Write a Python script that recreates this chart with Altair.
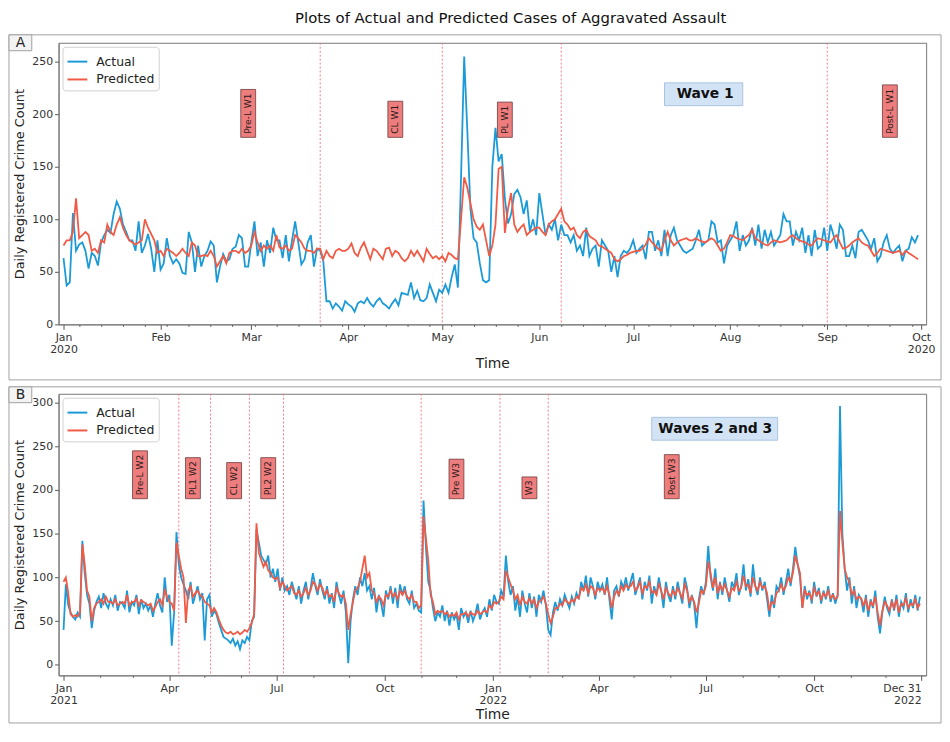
import altair as alt
import pandas as pd

BLUE = "#1b9ad8"
RED = "#f15b45"
RULE = "#f07c88"
BOXFILL = "#ee7d7d"
BOXSTROKE = "#6e3a3a"
WAVEFILL = "#d3e3f6"
WAVESTROKE = "#a9c2de"
FONT = "DejaVu Sans"

W = 875
H = 284

title_text = "Plots of Actual and Predicted Cases of Aggravated Assault"
series_names = ["Actual", "Predicted"]

# ---------------- Panel A (daily, 2020-01-01 .. 2020-09-30) ----------------
a_actual = [
    63, 37, 40, 106, 70, 76, 78, 70, 53, 68,
    65, 56, 78, 85, 90, 87, 105, 117, 110, 95,
    88, 80, 80, 70, 98, 68, 75, 86, 72, 50,
    80, 52, 58, 82, 65, 58, 62, 58, 49, 48,
    88, 78, 50, 75, 55, 65, 70, 79, 75, 40,
    55, 67, 60, 62, 72, 74, 85, 82, 55, 55,
    78, 98, 65, 78, 55, 80, 68, 92, 80, 80,
    63, 85, 60, 80, 98, 78, 57, 62, 78, 85,
    55, 72,
    70, 60, 22, 22, 15, 20, 17, 13, 22, 19,
    17, 12, 20, 22, 20, 25, 20, 17, 22, 25,
    20, 18, 15, 20, 24, 18, 30, 29, 28, 40,
    25, 32, 23, 22, 25, 38, 30, 22, 33, 30,
    38, 30, 45, 57, 35, 140,
    255, 185, 110, 82, 78, 58, 42, 40, 42, 150,
    187, 155, 162, 120, 96, 105, 124, 128, 121, 105,
    118, 88, 100, 85, 125, 105, 85, 95, 90, 100,
    80, 95, 85,
    85, 78, 85, 70, 75, 65, 92, 65,
    72, 75, 55, 80, 75, 70, 50, 65, 45, 65,
    70, 68, 72, 80, 68, 72, 75, 62, 88, 88,
    70, 80, 65, 90, 65, 85, 92, 80, 75, 70,
    68, 70, 72, 80, 90, 75, 78, 80, 98, 95,
    78, 80, 58, 75, 80, 85, 98, 70, 85, 75,
    80, 92, 75, 95, 72, 90, 78, 88, 75, 80,
    85, 105, 98, 98, 75, 88, 80, 92, 68, 85,
    65, 90, 72, 75, 92, 70, 95, 85, 72, 95,
    90, 65, 65, 75, 63, 88, 90, 85, 80, 72,
    82, 60, 65, 78, 85, 72, 68, 72, 75, 60,
    70, 72, 83, 78, 85,
]
a_pred = [
    75, 80, 80, 88, 120, 82, 85, 88, 85, 70,
    72, 68, 80, 78, 95, 88, 85, 95, 102, 92,
    85, 80, 78, 76, 78, 80, 100, 92, 86, 80,
    68, 70, 65, 72, 70, 68, 65, 68, 72, 68,
    65, 78, 75, 65, 65, 66, 65, 70, 65, 55,
    60, 65, 58, 68, 70, 70, 68, 72, 68, 70,
    75, 88, 78, 70, 75, 72, 75, 70, 85, 73,
    72, 75, 70, 72, 85, 82, 78, 72, 70, 70,
    68, 72,
    72, 62, 70, 65, 63, 70, 72, 70, 70, 72,
    77, 68, 65, 73, 78, 70, 62, 72, 70, 66,
    62, 72, 73, 65, 70, 68, 63, 60, 63, 70,
    65, 70, 65, 60, 72, 67, 63, 65, 62, 65,
    60, 68, 66, 63, 62, 100,
    140, 130, 115, 100, 93, 90, 95, 80, 65, 75,
    95, 148, 150, 87, 110, 125, 95, 88, 92, 95,
    85, 88, 90, 92, 92, 88, 85, 95, 98, 100,
    105, 110, 98,
    95, 90, 92, 85, 82, 88, 90, 84,
    82, 80, 75, 74, 72, 70, 68, 62, 60, 62,
    65, 66, 68, 69, 70, 70, 72, 76, 82, 78,
    75, 72, 70, 80, 88, 80, 75, 78, 80, 81,
    82, 80, 80, 82, 80, 79, 78, 80, 82, 80,
    75, 70, 72, 78, 85, 84, 82, 81, 80, 83,
    85, 90, 82, 80, 78, 76, 75, 78, 80, 79,
    78, 79, 80, 83, 85, 82, 80, 79, 78, 76,
    75, 79, 82, 81, 80, 79, 78, 82, 85, 78,
    72, 73, 75, 78, 80, 82, 78, 76, 75, 70,
    65, 68, 72, 71, 70, 69, 68, 69, 70, 66,
    70, 68, 66, 64, 62,
]
a_start, a_end = "2020-01-01", "2020-10-01"
a_ydomain = [0, 268]
a_yticks = [0, 50, 100, 150, 200, 250]
a_rules = ["2020-03-23", "2020-05-01", "2020-06-08", "2020-09-01"]
a_labels = ["Pre-L W1", "CL W1", "PL W1", "Post-L W1"]
a_label_dates = ["2020-02-29", "2020-04-16", "2020-05-21", "2020-09-21"]
a_label_bottom = 178
a_wave = "Wave 1"
a_wave_date = "2020-07-24"
a_wave_value = 219
a_wave_wpx = 82

# ---------------- Panel B (every 2nd day, 2021-01-01 .. 2022-12-30) ----------------
b_actual = [
    40, 92, 68, 60, 55, 52, 60, 55, 142, 105,
    80, 70, 42, 62, 72, 78, 65, 82, 70, 65,
    75, 68, 80, 62, 72, 70, 65, 85, 60, 72,
    68, 80, 58, 75, 65, 70, 62, 68, 55, 70,
    82, 68, 60, 100, 72, 80, 22, 60, 152, 115,
    100, 92, 85, 75, 95, 70, 80, 90, 75, 82,
    28, 75, 80, 55, 62, 58, 48, 40, 32, 30,
    28, 25, 30, 22, 27, 18, 28, 25, 32, 28,
    50, 55, 155, 140, 125, 120, 115, 125, 100, 110,
    95, 110, 85, 100, 85, 90, 80, 95, 85, 75,
    90, 70, 85, 95, 75, 88, 105, 90, 80, 98,
    85, 75, 90, 70, 82, 65, 95, 80, 70, 85,
    60, 2, 50, 75, 90, 80, 100, 90, 105, 85,
    90, 75, 88, 60, 80, 70, 55, 85, 75, 90,
    70, 88, 65, 92, 80, 90, 75, 70, 85, 65,
    70, 62, 60, 188, 135, 95, 85, 65, 50, 60,
    55, 68, 50, 62, 45, 60, 52, 58, 40, 65,
    55, 60, 48, 62, 50, 58, 70, 52, 60, 65,
    55, 75, 62, 80, 72, 70, 85, 78, 125, 95,
    80, 90, 62, 78, 55, 85, 70, 60, 82, 65,
    78, 55, 80, 72, 85, 68, 40, 34, 60, 72,
    62, 75, 68, 80, 72, 65, 78, 70, 82, 75,
    95, 85, 102, 78, 100, 90, 75, 95, 85, 92,
    80, 100, 75, 52, 85, 90, 78, 95, 88, 100,
    85, 95, 105, 80, 90, 100, 75, 95, 85, 102,
    70, 90, 80, 100, 85, 65, 95, 80, 72, 90,
    75, 95, 82, 70, 100, 88, 65, 80, 70, 42,
    75, 90, 80, 95, 136, 100, 85, 110, 75, 95,
    80, 100, 85, 72, 95, 88, 105, 80, 90, 115,
    85, 98, 78, 115, 90, 80, 100, 85, 95, 75,
    55, 80, 65, 90, 85, 100, 80, 95, 110, 90,
    110, 135, 115, 100, 65, 90, 75, 85, 70, 95,
    78, 88, 70, 85, 75, 90, 72, 82, 70, 80,
    296, 150, 110, 85, 100, 70, 90, 65, 80, 75,
    60, 80, 55, 75, 65, 85, 55, 36, 60, 78,
    65, 58, 75, 62, 80, 55, 72, 65, 82, 60,
    75, 65, 80, 62, 78,
]
b_pred = [
    95, 100, 82, 58, 55, 57, 55, 60, 138, 115,
    85, 78, 50, 65, 70, 72, 75, 70, 78, 72,
    72, 70, 75, 68, 70, 72, 70, 80, 68, 72,
    72, 76, 68, 74, 72, 70, 68, 70, 62, 66,
    72, 75, 68, 85, 78, 72, 70, 62, 140, 125,
    110, 100, 48, 85, 90, 78, 82, 85, 80, 78,
    72, 70, 68, 60, 65, 60, 52, 45, 40, 37,
    36, 38, 35, 36, 38, 35, 37, 40, 38, 42,
    48, 58, 162, 128, 120, 112, 118, 108, 105, 100,
    98, 100, 88, 95, 90, 85, 88, 90, 82, 80,
    85, 78, 82, 88, 80, 85, 95, 92, 85, 92,
    88, 80, 85, 78, 80, 72, 88, 82, 78, 80,
    70, 40, 58, 72, 85, 88, 95, 110, 125, 100,
    105, 85, 82, 72, 78, 75, 68, 80, 78, 85,
    78, 82, 75, 85, 80, 85, 78, 75, 80, 72,
    72, 65, 68, 170, 145, 120, 80, 72, 58, 62,
    60, 62, 58, 60, 55, 58, 56, 60, 52, 58,
    58, 60, 55, 60, 58, 57, 62, 58, 60, 62,
    60, 68, 65, 72, 70, 72, 78, 75, 108, 100,
    92, 85, 75, 80, 68, 78, 72, 70, 76, 70,
    75, 65, 72, 74, 78, 70, 58, 48, 55, 65,
    65, 70, 68, 75, 72, 70, 75, 72, 78, 76,
    88, 85, 92, 82, 90, 88, 80, 88, 85, 88,
    82, 90, 80, 65, 78, 85, 80, 90, 85, 92,
    88, 90, 95, 85, 88, 95, 82, 90, 88, 95,
    82, 85, 80, 92, 85, 75, 88, 82, 78, 85,
    80, 88, 82, 76, 92, 85, 72, 78, 72, 60,
    70, 85, 82, 90, 118, 105, 88, 100, 82, 92,
    85, 92, 85, 78, 88, 85, 95, 85, 88, 102,
    90, 92, 82, 100, 90, 85, 95, 88, 90, 82,
    62, 72, 70, 82, 85, 92, 85, 90, 100, 95,
    105, 125, 115, 105, 65, 85, 80, 82, 75, 88,
    80, 84, 75, 82, 78, 85, 76, 80, 75, 78,
    176, 140, 110, 100, 95, 80, 85, 75, 78, 76,
    68, 75, 62, 72, 68, 78, 60, 45, 62, 72,
    68, 62, 72, 65, 75, 60, 70, 68, 76, 65,
    70, 68, 75, 65, 70,
]
b_start, b_end = "2021-01-01", "2022-12-31"
b_ydomain = [-12, 310]
b_yticks = [0, 50, 100, 150, 200, 250, 300]
b_rules = ["2021-04-09", "2021-05-06", "2021-06-08", "2021-07-07",
           "2021-11-01", "2022-01-07", "2022-02-17"]
b_labels = ["Pre-L W2", "PL1 W2", "CL W2", "PL2 W2", "Pre W3", "W3", "Post W3"]
b_label_dates = ["2021-03-07", "2021-04-21", "2021-05-26", "2021-06-24",
                 "2021-12-01", "2022-02-01", "2022-06-02"]
b_label_bottom = 190
b_wave = "Waves 2 and 3"
b_wave_date = "2022-07-09"
b_wave_value = 270
b_wave_wpx = 129

# ------------------------------------------------------------------
CW = {'P': .603, 'r': .411, 'e': .615, '-': .361, 'L': .557, ' ': .318,
      'W': .989, '1': .636, '2': .636, '3': .636, 'C': .698, 'o': .612,
      's': .521, 't': .392}
LABEL_SIZE = 9.2


def text_px(s, size):
    return sum(CW.get(c, 0.6) for c in s) * size


def iso(ts):
    return pd.Timestamp(ts).strftime("%Y-%m-%dT00:00:00")


def to_dt(s):
    t = pd.Timestamp(s)
    return alt.DateTime(year=t.year, month=t.month, date=t.day)


def panel(tag, freq, actual, pred, start, end, ydom, yticks, rules, labels,
          label_dates, label_bottom, wave, wave_date, wave_val, wave_wpx,
          tick_values, label_expr, major_test, ftop, fbot):
    n = len(actual)
    dates = [iso(d) for d in pd.date_range(start, periods=n, freq=freq)]
    df = pd.DataFrame({"date": dates * 2, "value": actual + pred,
                       "series": ["Actual"] * n + ["Predicted"] * n})
    ndays = (pd.Timestamp(end) - pd.Timestamp(start)).days
    ppu = H / (ydom[1] - ydom[0])
    ppd = W / ndays

    xaxis = alt.Axis(
        title="Time", values=tick_values, labelExpr=label_expr,
        labelOverlap=False, labelBound=False, labelLineHeight=12,
        labelPadding=2, titlePadding=3, titleFontSize=14,
        tickSize={"condition": {"test": major_test, "value": 5}, "value": 2},
        labelAlign={"condition": {"test": "date(datum.value)==31", "value": "right"},
                    "value": "center"},
    )
    yaxis = alt.Axis(title="Daily Registered Crime Count", values=yticks,
                     titlePadding=5, labelPadding=2, titleFontSize=13)
    xscale = alt.Scale(domain=[to_dt(start), to_dt(end)])
    yscale = alt.Scale(domain=ydom, nice=False, zero=False)

    def X(field="date"):
        return alt.X(f"{field}:T", scale=xscale, axis=xaxis)

    def Y(field="value"):
        return alt.Y(f"{field}:Q", scale=yscale, axis=yaxis)

    one = pd.DataFrame({"k": [0]})
    frame = alt.Chart(one).mark_rect(fillOpacity=0, stroke="#a0a0a0", strokeWidth=1).encode(
        x=alt.value(-50), x2=alt.value(W + 15), y=alt.value(ftop), y2=alt.value(fbot))
    tagbox = alt.Chart(one).mark_rect(fill="#f3f3f3", stroke="#a0a0a0", strokeWidth=1).encode(
        x=alt.value(-50), x2=alt.value(-27), y=alt.value(ftop), y2=alt.value(ftop + 16))
    tagtext = alt.Chart(one).mark_text(fontSize=14, font=FONT, color="#222").encode(
        x=alt.value(-38.5), y=alt.value(ftop + 8.5), text=alt.value(tag))

    rule_df = pd.DataFrame({"date": [iso(r) for r in rules]})
    rule = alt.Chart(rule_df).mark_rule(color=RULE, strokeDash=[2, 2], strokeWidth=1).encode(
        x=X())

    lines = alt.Chart(df).mark_line(strokeWidth=1.8).encode(
        x=X(), y=Y(),
        color=alt.Color("series:N",
                        scale=alt.Scale(domain=series_names, range=[BLUE, RED]),
                        legend=alt.Legend(orient="top-left", title=None, fillColor="white",
                                          strokeColor="#d0d0d0", padding=4, offset=4,
                                          cornerRadius=3, symbolType="stroke",
                                          symbolSize=400, symbolStrokeWidth=2,
                                          labelFontSize=12.5, labelFont=FONT,
                                          labelOffset=8, rowPadding=-2, labelColor="#222")),
    )

    lab_df = pd.DataFrame({
        "date": [iso(d) for d in label_dates],
        "label": labels,
        "value": [label_bottom] * len(labels),
        "value2": [label_bottom + (text_px(s, LABEL_SIZE) + 7) / ppu for s in labels],
    })
    lab_text_df = pd.DataFrame({
        "date": [iso(d) for d in label_dates],
        "label": labels,
        "value": [label_bottom + 3.5 / ppu] * len(labels),
    })
    boxes = alt.Chart(lab_df).mark_bar(size=15, fill=BOXFILL, stroke=BOXSTROKE,
                                       strokeWidth=0.8).encode(
        x=X(), y=Y(), y2="value2:Q")
    texts = alt.Chart(lab_text_df).mark_text(
        angle=270, align="left", baseline="middle", fontSize=LABEL_SIZE, font=FONT,
        color="#2a1a1a").encode(x=X(), y=Y(), text="label:N")

    half_days = wave_wpx / 2 / ppd
    c = pd.Timestamp(wave_date)
    wave_df = pd.DataFrame({
        "date": [iso(c - pd.Timedelta(days=half_days))],
        "date2": [iso(c + pd.Timedelta(days=half_days))],
        "value": [wave_val - 11.5 / ppu],
        "value2": [wave_val + 11.5 / ppu],
    })
    wave_text_df = pd.DataFrame({"date": [iso(c)], "value": [wave_val], "label": [wave]})
    wavebox = alt.Chart(wave_df).mark_rect(fill=WAVEFILL, stroke=WAVESTROKE, strokeWidth=1).encode(
        x=X(), x2="date2:T", y=Y(), y2="value2:Q")
    wavetext = alt.Chart(wave_text_df).mark_text(
        fontSize=14, fontWeight="bold", font=FONT, color="#111", baseline="middle").encode(
        x=X(), y=Y(), text="label:N")

    return alt.layer(frame, tagbox, tagtext, rule, lines, boxes, texts, wavebox, wavetext).properties(
        width=W, height=H)


# tick values
a_months = list(pd.date_range("2020-01-01", "2020-10-01", freq="MS"))
a_weeks = [d for d in pd.date_range("2020-01-06", "2020-09-28", freq="7D") if d.day != 1]
a_ticks = [to_dt(d) for d in a_months + a_weeks]
a_expr = ("date(datum.value)!=1 ? '' : ((month(datum.value)==0 || month(datum.value)==9) ? "
          "[timeFormat(datum.value,'%b'), timeFormat(datum.value,'%Y')] : timeFormat(datum.value,'%b'))")
a_major = "date(datum.value)==1"

b_months = list(pd.date_range("2021-01-01", "2022-12-01", freq="MS"))
b_ticks = [to_dt(d) for d in b_months] + [to_dt("2022-12-31")]
b_expr = ("date(datum.value)==31 ? [timeFormat(datum.value,'%b %d'), timeFormat(datum.value,'%Y')] : "
          "((date(datum.value)==1 && month(datum.value)%3==0) ? (month(datum.value)==0 ? "
          "[timeFormat(datum.value,'%b'), timeFormat(datum.value,'%Y')] : timeFormat(datum.value,'%b')) : '')")
b_major = "(date(datum.value)==1 && month(datum.value)%3==0) || date(datum.value)==31"

pA = panel("A", "D", a_actual, a_pred, a_start, a_end, a_ydomain, a_yticks, a_rules, a_labels,
           a_label_dates, a_label_bottom, a_wave, a_wave_date, a_wave_value, a_wave_wpx,
           a_ticks, a_expr, a_major, -8, H + 56)
pB = panel("B", "2D", b_actual, b_pred, b_start, b_end, b_ydomain, b_yticks, b_rules, b_labels,
           b_label_dates, b_label_bottom, b_wave, b_wave_date, b_wave_value, b_wave_wpx,
           b_ticks, b_expr, b_major, -7, H + 48)

chart = alt.vconcat(pA, pB, spacing=5).resolve_scale(
    color="independent").resolve_legend(color="independent").properties(
    padding=0,
    title=alt.TitleParams(text=title_text, fontSize=15, fontWeight="normal", font=FONT,
                          color="#111", offset=8, anchor="middle", dx=36),
).configure(font=FONT).configure_view(stroke="#777", strokeWidth=1).configure_axis(
    labelFontSize=11, titleFontWeight="normal", labelColor="#333",
    titleColor="#222", tickColor="#555", domainColor="#777", grid=False,
    labelFont=FONT, titleFont=FONT,
).configure_axisY(tickSize=4)

chart.save("out.html", embed_options={"renderer": "svg", "actions": False})
